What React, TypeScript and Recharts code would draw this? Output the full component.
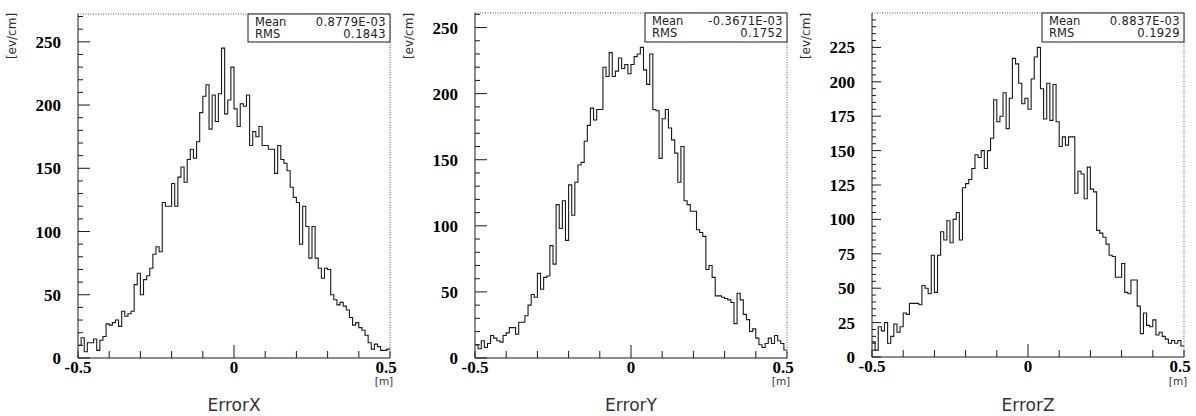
import React from "react";
import { LineChart, Line, XAxis, YAxis, ReferenceLine } from "recharts";

// histogram range, 100 bins of 0.01 m
const BIN_LO = -0.5;
const BIN_HI = 0.5;
const BIN_W = 0.01;

const ERROR_X = [
  10, 16, 5, 12, 12, 15, 6, 14, 17, 27,
  26, 28, 30, 25, 37, 33, 35, 37, 58, 67,
  50, 62, 65, 71, 82, 88, 84, 123, 120, 120,
  138, 120, 143, 151, 139, 157, 165, 158, 171, 194,
  207, 216, 181, 208, 187, 209, 245, 193, 204, 230,
  197, 183, 201, 199, 208, 168, 179, 175, 183, 168,
  168, 165, 165, 146, 168, 157, 154, 148, 135, 127,
  123, 90, 120, 104, 79, 104, 79, 71, 63, 71,
  70, 50, 46, 42, 44, 41, 38, 32, 26, 28,
  24, 22, 18, 12, 7, 11, 9, 6, 6, 7,
];

const ERROR_Y = [
  10, 7, 13, 8, 11, 17, 15, 13, 12, 17,
  19, 23, 23, 18, 27, 27, 32, 40, 48, 46,
  64, 52, 61, 62, 85, 71, 116, 98, 119, 89,
  131, 108, 133, 146, 148, 164, 176, 189, 180, 188,
  188, 220, 213, 231, 213, 217, 227, 219, 222, 215,
  222, 228, 230, 235, 218, 207, 230, 188, 187, 151,
  181, 188, 174, 165, 155, 133, 160, 119, 116, 111,
  111, 97, 95, 92, 67, 70, 61, 47, 47, 46,
  45, 44, 42, 26, 49, 44, 33, 29, 20, 22,
  15, 10, 8, 11, 15, 11, 17, 13, 11, 6,
];

const ERROR_Z = [
  11, 5, 22, 19, 25, 10, 15, 24, 18, 22,
  32, 31, 39, 39, 39, 38, 52, 50, 46, 74,
  47, 74, 91, 85, 99, 83, 100, 105, 85, 123,
  126, 129, 137, 147, 145, 150, 137, 150, 159, 187,
  171, 175, 192, 166, 188, 217, 213, 199, 184, 188,
  180, 202, 218, 225, 195, 173, 199, 172, 198, 171,
  153, 160, 154, 160, 160, 119, 135, 133, 115, 138,
  122, 120, 92, 90, 87, 82, 74, 73, 58, 58,
  68, 47, 46, 56, 56, 37, 17, 32, 23, 22,
  27, 16, 18, 15, 13, 10, 12, 10, 12, 8,
];

const X_TICKS = [-0.5, -0.4, -0.3, -0.2, -0.1, 0, 0.1, 0.2, 0.3, 0.4, 0.5];
const X_LABELS = [-0.5, 0, 0.5];

const Y_TICKS_X = [0, 10, 20, 30, 40, 50, 60, 70, 80, 90, 100, 110, 120, 130, 140, 150, 160, 170, 180, 190, 200, 210, 220, 230, 240, 250, 260, 270];
const Y_LABELS_X = [0, 50, 100, 150, 200, 250];
const Y_TICKS_Y = [0, 10, 20, 30, 40, 50, 60, 70, 80, 90, 100, 110, 120, 130, 140, 150, 160, 170, 180, 190, 200, 210, 220, 230, 240, 250, 260];
const Y_LABELS_Y = [0, 50, 100, 150, 200, 250];
const Y_TICKS_Z = [0, 5, 10, 15, 20, 25, 30, 35, 40, 45, 50, 55, 60, 65, 70, 75, 80, 85, 90, 95, 100, 105, 110, 115, 120, 125, 130, 135, 140, 145, 150, 155, 160, 165, 170, 175, 180, 185, 190, 195, 200, 205, 210, 215, 220, 225, 230, 235, 240, 245];
const Y_LABELS_Z = [0, 25, 50, 75, 100, 125, 150, 175, 200, 225];

const Y_MAX = [272, 261, 250];
const TITLES = ["ErrorX", "ErrorY", "ErrorZ"];
const STAT_MEAN = ["0.8779E-03", "-0.3671E-03", "0.8837E-03"];
const STAT_RMS = ["0.1843", "0.1752", "0.1929"];

// page layout (px)
const CHART_X = [0, 398, 796];
const CHART_W = [398, 398, 400];
const PLOT_L = [78, 475, 872];
const PLOT_R = [390, 787, 1184];
const PLOT_T = [14, 13, 13];
const PLOT_B = [358, 358, 357];
const Y_AXIS_W = 40;
const X_AXIS_H = 30;
const TICK_GAP = 4;

const INK = "#1a1a1a";
const SERIF = "'Liberation Serif', 'Times New Roman', serif";
const SANS = "'DejaVu Sans', sans-serif";

function toHist(values: number[]) {
  const rows = values.map((v, i) => ({
    x: Math.round((BIN_LO + i * BIN_W) * 1000) / 1000,
    v,
  }));
  rows.push({ x: BIN_HI, v: values[values.length - 1] });
  return rows;
}

function XTick(props: any) {
  const { x, y, payload } = props;
  const axisY = y - TICK_GAP;
  const val = payload.value;
  const len = Math.abs(val) < 1e-9 ? 13 : 7;
  const label = X_LABELS.some((l) => Math.abs(l - val) < 1e-9);
  const shift = val > 0.45 ? -4 : 0;
  return (
    <g>
      <line x1={x} x2={x} y1={axisY} y2={axisY - len} stroke={INK} strokeWidth={1} />
      {label && (
        <text
          x={x + shift}
          y={axisY + 15}
          textAnchor="middle"
          fontFamily={SERIF}
          fontWeight="bold"
          fontSize={17}
          fill="#000"
        >
          {val === 0 ? "0" : String(val)}
        </text>
      )}
    </g>
  );
}

function makeYTick(labels: number[], majorLen: number, minorLen: number) {
  return function YTick(props: any) {
    const { x, y, payload } = props;
    const axisX = x + TICK_GAP;
    const val = payload.value;
    const major = labels.includes(val);
    return (
      <g>
        <line
          x1={axisX}
          x2={axisX + (major ? majorLen : minorLen)}
          y1={y}
          y2={y}
          stroke={INK}
          strokeWidth={1}
        />
        {major && (
          <text
            x={axisX - 17}
            y={y + 6}
            textAnchor="end"
            fontFamily={SERIF}
            fontWeight="bold"
            fontSize={17}
            fill="#000"
          >
            {val}
          </text>
        )}
      </g>
    );
  };
}

const SERIES = [ERROR_X, ERROR_Y, ERROR_Z];
const Y_TICKS = [Y_TICKS_X, Y_TICKS_Y, Y_TICKS_Z];
const Y_LABELS = [Y_LABELS_X, Y_LABELS_Y, Y_LABELS_Z];
const MAJOR_LEN = [12, 12, 9];
const MINOR_LEN = [5, 5, 4];

function Panel({ idx }: { idx: number }) {
  const data = toHist(SERIES[idx]);
  const left = PLOT_L[idx] - CHART_X[idx] - Y_AXIS_W;
  const right = CHART_X[idx] + CHART_W[idx] - PLOT_R[idx];
  const top = PLOT_T[idx];
  const bottom = 416 - PLOT_B[idx] - X_AXIS_H;
  const YTick = makeYTick(Y_LABELS[idx], MAJOR_LEN[idx], MINOR_LEN[idx]);
  return (
    <div style={{ position: "absolute", left: CHART_X[idx], top: 0 }}>
      <LineChart
        width={CHART_W[idx]}
        height={416}
        data={data}
        margin={{ top, right, bottom, left }}
      >
        <XAxis
          type="number"
          dataKey="x"
          domain={[BIN_LO, BIN_HI]}
          ticks={X_TICKS}
          interval={0}
          height={X_AXIS_H}
          tickSize={0}
          tickMargin={TICK_GAP}
          tickLine={false}
          axisLine={{ stroke: INK, strokeWidth: 1 }}
          tick={(p: any) => <XTick {...p} />}
        />
        <YAxis
          type="number"
          domain={[0, Y_MAX[idx]]}
          ticks={Y_TICKS[idx]}
          interval={0}
          width={Y_AXIS_W}
          tickSize={0}
          tickMargin={TICK_GAP}
          tickLine={false}
          axisLine={{ stroke: INK, strokeWidth: 1 }}
          tick={(p: any) => <YTick {...p} />}
        />
        <ReferenceLine y={Y_MAX[idx]} stroke="#555" strokeDasharray="1 1.5" />
        <ReferenceLine x={BIN_HI} stroke="#555" strokeDasharray="1 1.5" />
        <Line
          type="stepAfter"
          dataKey="v"
          stroke={INK}
          strokeWidth={1.1}
          dot={false}
          isAnimationActive={false}
        />
      </LineChart>
    </div>
  );
}

function Overlay() {
  return (
    <svg
      width={1196}
      height={416}
      style={{ position: "absolute", left: 0, top: 0, pointerEvents: "none" }}
    >
      {[0, 1, 2].map((i) => {
        const boxL = PLOT_R[i] - 142;
        const boxT = PLOT_T[i];
        const cx = (PLOT_L[i] + PLOT_R[i]) / 2;
        const labX = PLOT_L[i] - 62;
        return (
          <g key={i}>
            <text
              transform={`translate(${labX}, 36) rotate(-90)`}
              textAnchor="middle"
              fontFamily={SANS}
              fontSize={12}
              fill="#333"
            >
              [ev/cm]
            </text>
            <text
              x={cx}
              y={411}
              textAnchor="middle"
              fontFamily={SANS}
              fontSize={17}
              fill="#333"
            >
              {TITLES[i]}
            </text>
            <text
              x={PLOT_R[i] - 6}
              y={385}
              textAnchor="middle"
              fontFamily={SANS}
              fontSize={10.5}
              fill="#333"
            >
              [m]
            </text>
            <rect
              x={boxL}
              y={boxT}
              width={PLOT_R[i] - boxL}
              height={42 - boxT}
              fill="#fff"
              stroke={INK}
              strokeWidth={1}
            />
            <text x={boxL + 7} y={boxT + 11.5} fontFamily={SANS} fontSize={11.5} fill="#222">
              Mean
            </text>
            <text
              x={PLOT_R[i] - 4}
              y={boxT + 11.5}
              textAnchor="end"
              fontFamily={SANS}
              fontSize={11.5}
              letterSpacing={0.4}
              fill="#222"
            >
              {STAT_MEAN[i]}
            </text>
            <text x={boxL + 7} y={boxT + 24} fontFamily={SANS} fontSize={11.5} fill="#222">
              RMS
            </text>
            <text
              x={PLOT_R[i] - 4}
              y={boxT + 24}
              textAnchor="end"
              fontFamily={SANS}
              fontSize={11.5}
              letterSpacing={0.4}
              fill="#222"
            >
              {STAT_RMS[i]}
            </text>
          </g>
        );
      })}
    </svg>
  );
}

export default function App() {
  return (
    <div
      style={{
        position: "absolute",
        left: 0,
        top: 0,
        width: 1196,
        height: 416,
        background: "#fff",
        overflow: "hidden",
      }}
    >
      <Panel idx={0} />
      <Panel idx={1} />
      <Panel idx={2} />
      <Overlay />
    </div>
  );
}
